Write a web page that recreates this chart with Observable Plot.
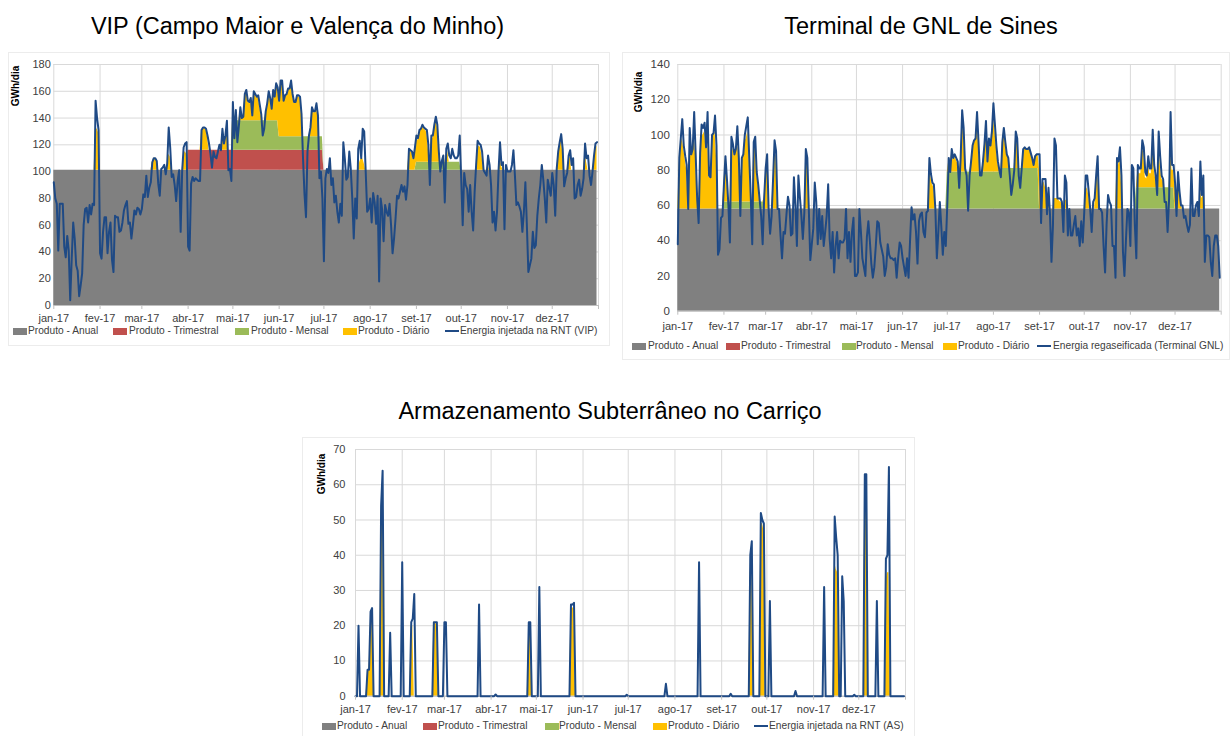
<!DOCTYPE html>
<html><head><meta charset="utf-8">
<script src="https://cdn.jsdelivr.net/npm/d3@7"></script>
<script src="https://cdn.jsdelivr.net/npm/@observablehq/plot@0.6"></script>
<style>
body{margin:0;background:#fff;width:1231px;height:736px;position:relative;overflow:hidden;font-family:"Liberation Sans",Arial,sans-serif;}
.title{position:absolute;font-size:23.5px;line-height:24px;color:#000;white-space:nowrap;transform:translateX(-50%);}
.ylab{position:absolute;font-size:10px;font-weight:bold;color:#000;transform:translate(-50%,-50%) rotate(-90deg);white-space:nowrap;}
.leg{position:absolute;font-size:10.2px;color:#404040;white-space:nowrap;line-height:12px;}
.sw{position:absolute;width:14px;height:7px;}
.swl{position:absolute;width:14px;height:2px;}
.panel{position:absolute;border:1px solid #ececec;}
.svgbox{position:absolute;}
</style></head><body>
<script>
// ---------- shared categories ----------
const monthLabels = ["jan-17","fev-17","mar-17","abr-17","mai-17","jun-17","jul-17","ago-17","set-17","out-17","nov-17","dez-17"];
const monthStarts = [0,31,59,90,120,151,181,212,243,273,304,334];
const legendLabels = ["Produto - Anual","Produto - Trimestral","Produto - Mensal","Produto - Diário"];

// ---------- VIP (Campo Maior e Valença do Minho) ----------
const vipEnergia = [
92,80,76,41,76,76,76,44,36,52,
41,4,35,62,50,30,26,7,15,24,
60,72,73,62,75,68,76,75,153,140,
131,39,35,55,66,66,39,55,62,34,
25,67,66,66,55,56,62,71,75,78,
61,62,50,60,71,68,73,72,68,72,
83,81,97,81,88,92,107,110,110,108,
91,82,102,103,105,98,106,133,118,96,
98,90,78,93,101,55,100,118,121,122,
44,41,91,96,93,95,94,93,93,131,
133,133,132,127,121,113,103,115,111,110,
115,120,116,132,121,127,138,101,102,93,
152,125,146,122,134,148,140,141,158,161,
153,152,155,142,160,158,156,157,150,143,
127,132,145,151,160,155,147,161,156,166,
163,153,168,168,153,157,158,162,162,168,
158,152,152,157,157,156,143,110,83,66,
115,127,133,148,145,145,151,142,95,100,
80,33,95,102,99,110,90,95,77,82,
70,62,76,67,122,110,94,96,115,102,
80,50,80,65,117,123,110,132,130,100,
70,72,80,62,84,77,61,82,18,80,
72,48,75,70,67,76,60,39,50,65,
82,80,85,90,85,89,79,90,117,116,
115,110,118,127,125,131,132,135,133,132,
131,120,90,127,127,135,141,135,115,100,
108,112,77,117,121,112,110,117,112,110,
110,112,127,95,60,99,90,87,70,90,
70,56,85,105,123,121,120,115,101,99,
97,112,105,90,62,70,56,70,100,122,
105,107,57,105,100,100,100,105,116,97,
75,77,74,70,55,70,92,60,25,30,
35,55,43,45,67,80,90,105,94,80,
62,94,88,82,99,90,67,102,115,122,
128,117,89,95,99,112,116,105,110,80,
81,90,94,82,87,95,121,110,112,97,
90,100,112,121,122];
const vipAnual = 101;
const vipTrimestral = [[90,180,15]];            // [first day, last day, GWh/dia]
const vipMensal = [[121,150,22],[151,180,10],[243,272,6]];
const vipDiario = [[28,30],[29,31],[30,28],[66,6],[67,9],[68,9],[69,7],[76,5],[77,12],[78,10],
[87,12],[88,14],[89,12],[99,14],[100,16],[101,16],[102,15],[103,10],[113,12],[114,4],[115,10],[116,18],
[120,30],[122,6],[125,9],[126,2],[127,3],[128,19],[129,22],[130,14],[131,13],[132,16],[133,4],[134,21],
[135,19],[136,17],[137,18],[138,11],[139,4],[142,6],[143,12],[144,21],[145,16],[146,8],[147,22],[148,17],
[149,27],[150,24],[151,26],[152,41],[153,41],[154,26],[155,30],[156,31],[157,35],[158,35],[159,41],[160,31],
[161,25],[162,25],[163,30],[164,30],[165,29],[166,16],[172,6],[173,20],[174,18],[175,18],[176,24],[177,14],
[205,6],[206,9],[207,9],[208,5],[238,12],[239,14],[240,13],[241,8],[242,14],
[243,18],[244,16],[245,22],[246,24],[247,27],[248,25],[249,24],[250,22],[251,10],[253,18],[254,18],[255,26],
[256,32],[257,26],[258,6],[263,6],[264,8],[284,18],[285,18],[286,17],[287,10],[291,4],[299,10],[300,3],
[338,12],[339,18],[340,22],[341,14],[345,8],[346,10],[356,15],[357,6],[362,8],[363,16],[364,18]];

// ---------- Terminal de GNL de Sines ----------
const gnlEnergia = [
38,87,98,109,94,88,83,58,104,89,
92,113,89,64,50,90,106,104,107,93,
113,77,76,100,101,111,94,32,35,53,
54,72,88,75,60,39,99,95,89,92,
105,87,54,87,89,100,105,110,87,65,
38,96,99,79,72,63,54,38,64,81,
89,58,44,54,75,97,91,58,58,43,
30,45,44,55,65,60,43,44,76,60,
37,77,65,54,41,56,92,87,58,29,
38,47,73,62,38,58,41,54,37,45,
54,72,41,30,45,22,37,45,30,40,
39,39,41,58,30,45,28,45,53,20,
20,22,58,45,30,25,20,42,51,40,
27,19,25,37,51,50,39,35,31,20,
25,38,32,30,30,29,30,19,30,39,
37,30,25,20,30,19,40,59,52,55,
45,27,51,55,56,45,42,56,57,87,
78,73,72,58,30,45,62,48,32,45,
37,60,87,79,92,87,89,87,85,70,
87,114,104,81,77,57,77,85,94,97,
98,113,96,77,77,85,95,108,85,98,
94,102,118,106,94,85,80,76,96,104,
96,89,87,77,66,72,80,102,98,77,
70,81,92,93,92,92,93,90,87,83,
88,89,89,89,50,75,75,75,55,70,
55,28,49,98,94,64,64,64,62,45,
77,73,43,58,43,43,49,54,43,47,
37,51,39,56,77,77,68,58,45,62,
64,77,88,58,58,56,37,22,49,66,
62,60,37,37,19,87,85,93,77,34,
20,40,58,56,37,83,81,49,30,83,
81,81,97,93,79,77,88,81,81,103,
83,77,66,102,88,77,75,62,62,45,
64,113,83,83,73,54,79,68,60,60,
53,54,49,45,49,81,54,54,60,62,
54,85,66,77,28,43,43,42,28,20,
37,43,43,37,19];
const gnlAnual = 58;
const gnlTrimestral = [];
const gnlMensal = [[31,58,4],[181,217,21],[218,242,23],[308,333,12]];
const gnlDiario = [[1,25],[2,36],[3,40],[4,34],[5,28],[6,22],[8,38],[9,30],[10,32],[11,42],[12,30],[13,6],
[15,28],[16,42],[17,42],[18,44],[19,34],[20,44],[21,18],[22,18],[23,40],[24,42],[25,44],[26,30],
[31,10],[32,24],[33,12],[36,30],[37,30],[38,26],[39,28],[40,36],[41,24],[43,24],[44,26],[45,34],[46,36],
[47,40],[48,24],[49,3],[51,30],[52,32],[53,16],[54,10],[58,2],[59,20],[60,28],[64,14],[65,34],[66,30],
[86,30],[87,26],[169,22],[170,18],[171,14],[172,12],
[182,6],[184,12],[185,7],[186,9],[187,7],[188,5],[190,7],[191,28],[192,22],[193,2],[197,5],[198,14],[199,17],
[200,18],[201,28],[202,16],[205,5],[206,15],[207,24],[208,5],[209,18],[210,14],[211,22],[212,30],[213,24],
[214,14],[215,5],[216,1],[218,14],[219,22],[220,14],[221,8],[222,6],[227,20],[228,16],[232,10],[233,12],
[234,11],[235,11],[236,12],[237,9],[238,6],[239,2],[240,7],[241,8],[242,8],
[243,22],[245,15],[246,15],[247,12],[249,10],[253,6],[254,6],[255,6],[256,5],[257,4],[258,4],[260,5],[261,5],
[274,10],[275,12],[276,8],[281,15],[282,25],[295,25],[296,25],[297,30],[298,15],
[309,10],[310,8],[311,8],[312,22],[313,20],[314,6],[315,5],[316,14],[317,8],[318,8],[319,25],[320,10],
[321,5],[323,25],[324,14],[325,5],[326,4],[331,22],[332,10],[333,10],
[334,12],[336,14],[337,10],[338,2],[351,10],[352,6],[353,8]];

// ---------- Armazenamento Subterrâneo no Carriço ----------
const asEnergiaPicos = [[2,20],[8,7.5],[9,7.5],[10,24],[11,25],[17,54],[18,64],[23,18],[31,38],[37,21],[38,22],
[39,29],[52,21],[53,21],[54,21],[59,21],[60,21],[82,26],[93,0.5],[115,21],[116,21],[122,31],[143,26],[144,26],
[145,26.5],[180,0.4],[206,3.5],[228,38],[249,0.7],[262,40],[263,44],[269,52],[270,50],[271,49],[275,27],
[292,1.5],[311,31],[318,51],[319,45],[320,40],[323,34],[324,27],[331,0.4],[338,63],[339,63],[346,27],
[352,39],[353,40],[354,65]];
const asAnual = 0;
const asTrimestral = [];
const asMensal = [];
const asDiario = [[8,7],[9,7],[10,22],[11,22],[17,52],[18,60],[37,20],[38,20],[52,21],[53,21],[54,20],
[115,20],[116,20],[143,25],[144,25],[145,25],[262,35],[263,38],[269,49],[270,49],[271,47],
[318,38],[319,36],[320,35],[338,60],[339,58],[352,33],[353,35],[354,35]];

// ---------- helpers ----------
const C = {anual:"#808080", trim:"#c0504d", mensal:"#9bbb59", diario:"#ffc000", line:"#1f4a85"};

function rowsFrom(energia, anual, trim, mensal, diario) {
  const dm = new Map(diario);
  const seg = (list, d) => list.reduce((s, [a, b, v]) => (d >= a && d <= b ? s + v : s), 0);
  return energia.map((e, d) => {
    const t = seg(trim, d), m = seg(mensal, d), dd = dm.get(d) || 0;
    return {d, e, y0: 0, y1: anual, y2: anual + t, y3: anual + t + m, y4: anual + t + m + dd};
  });
}

function chart(o) {
  const yTicks = d3.range(0, o.ymax + 1, o.ystep);
  const rows = o.rows;
  const svg = Plot.plot({
    width: o.w, height: o.h,
    marginLeft: o.ml, marginRight: o.mr, marginTop: o.mt, marginBottom: o.mb,
    x: {domain: [0, 365], axis: null, label: null},
    y: {domain: [0, o.ymax], axis: null, label: null},
    style: {fontFamily: "'Liberation Sans', Arial, sans-serif", fontSize: "11px", background: "transparent", overflow: "visible"},
    marks: [
      Plot.gridY(yTicks, {stroke: "#d9d9d9", strokeOpacity: 1}),
      Plot.ruleX(monthStarts.concat([365]), {stroke: "#d9d9d9", strokeOpacity: 1}),
      Plot.areaY(rows, {x: "d", y1: "y0", y2: "y1", fill: C.anual}),
      Plot.areaY(rows, {x: "d", y1: "y1", y2: "y2", fill: C.trim}),
      Plot.areaY(rows, {x: "d", y1: "y2", y2: "y3", fill: C.mensal}),
      Plot.areaY(rows, {x: "d", y1: "y3", y2: "y4", fill: C.diario}),
      Plot.ruleY([0], {stroke: "#bfbfbf"}),
      Plot.lineY(rows, {x: "d", y: "e", stroke: C.line, strokeWidth: 2, strokeLinejoin: "round"}),
      Plot.axisX(monthStarts.concat([365]), {label: null, tickSize: 4, tickPadding: o.xpad, tickFormat: d => monthLabels[monthStarts.indexOf(d)] || "", stroke: "#bfbfbf", fill: "#404040", fontSize: 11}),
      Plot.axisY(yTicks, {label: null, tickSize: 0, tickPadding: o.ypad, fill: "#404040", fontSize: o.yfs})
    ]
  });
  const box = document.createElement("div");
  box.className = "svgbox";
  box.style.left = o.left + "px"; box.style.top = o.top + "px";
  box.appendChild(svg);
  document.body.appendChild(box);
}

function addDiv(cls, text, x, y, extra) {
  const el = document.createElement("div");
  el.className = cls; el.textContent = text;
  el.style.left = x + "px"; el.style.top = y + "px";
  if (extra) Object.assign(el.style, extra);
  document.body.appendChild(el);
  return el;
}

function legend(y, pos, lineLabel) {
  const colors = [C.anual, C.trim, C.mensal, C.diario];
  legendLabels.forEach((lab, i) => {
    addDiv("sw", "", pos[i][0], y - 3.5, {background: colors[i]});
    addDiv("leg", lab, pos[i][1], y - 6.5);
  });
  addDiv("swl", "", pos[4][0], y - 1, {background: C.line});
  addDiv("leg", lineLabel, pos[4][1], y - 6.5);
}

// panel frames
addDiv("panel", "", 8, 52, {width: "600px", height: "292px"});
addDiv("panel", "", 622, 52, {width: "606px", height: "306px"});
addDiv("panel", "", 302, 437, {width: "611px", height: "298px"});

// ---------- chart 1 ----------
chart({rows: rowsFrom(vipEnergia, vipAnual, vipTrimestral, vipMensal, vipDiario),
  left: 0, top: 0, w: 610, h: 345, ml: 53.3, mr: 12, mt: 64, mb: 40,
  ymax: 180, ystep: 20, xpad: 5, ypad: 3, yfs: 11});
addDiv("title", "VIP (Campo Maior e Valença do Minho)", 297.5, 14);
addDiv("ylab", "GWh/dia", 15, 86);
legend(331, [[13,28],[113,129],[235,251],[343,358],[445,460]], "Energia injetada na RNT (VIP)");

// ---------- chart 2 ----------
chart({rows: rowsFrom(gnlEnergia, gnlAnual, gnlTrimestral, gnlMensal, gnlDiario),
  left: 615, top: 0, w: 615, h: 356, ml: 62.3, mr: 9.3, mt: 64, mb: 45.3,
  ymax: 140, ystep: 20, xpad: 7, ypad: 8, yfs: 11.5});
addDiv("title", "Terminal de GNL de Sines", 921, 14);
addDiv("ylab", "GWh/dia", 638, 92);
legend(346, [[632,648],[726,741],[842,856],[943,958],[1037,1053]], "Energia regaseificada (Terminal GNL)");

// ---------- chart 3 ----------
const asMap = new Map(asEnergiaPicos);
const asEnergia = d3.range(365).map(d => asMap.get(d) || 0);
chart({rows: rowsFrom(asEnergia, asAnual, asTrimestral, asMensal, asDiario),
  left: 300, top: 430, w: 615, h: 290, ml: 55, mr: 10, mt: 19, mb: 24.3,
  ymax: 70, ystep: 10, xpad: 5, ypad: 10, yfs: 11});
addDiv("title", "Armazenamento Subterrâneo no Carriço", 610, 399);
addDiv("ylab", "GWh/dia", 321, 474);
legend(726, [[322,337],[423,438],[545,559],[653,668],[754,769]], "Energia injetada na RNT (AS)");
</script>
</body></html>
